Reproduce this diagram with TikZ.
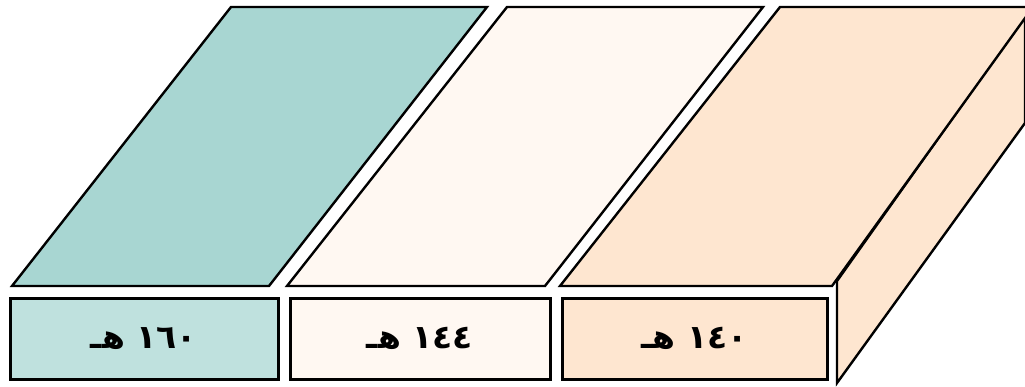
\documentclass[tikz,border=0pt]{standalone}
\usepackage{fontspec}
\newfontfamily\arabicfont[Script=Arabic]{DejaVu Sans}
\TeXXeTstate=1
\definecolor{tealtop}{HTML}{A8D6D2}
\definecolor{teallbl}{HTML}{BFE1DE}
\definecolor{creamfill}{HTML}{FFF8F2}
\definecolor{peachfill}{HTML}{FEE6D0}
\begin{document}
\begin{tikzpicture}[x=1pt,y=-1pt,
	face/.style={draw=black,line width=2.4pt,line join=miter},
	lbl/.style={draw=black,line width=3pt,minimum height=81pt,inner sep=0pt,
		font=\arabicfont\bfseries\fontsize{33}{38}\selectfont}]
	\useasboundingbox (0,0) rectangle (1025,386);
	\clip (0,0) rectangle (1025,386);
	% top faces
	\draw[face,fill=tealtop] (12,286) -- (231,7) -- (487,7) -- (269,286) -- cycle;
	\draw[face,fill=creamfill] (287,286) -- (507,7) -- (763,7) -- (545,286) -- cycle;
	\draw[face,fill=peachfill] (837,281) -- (837,383) -- (1025,123) -- (1025,16) -- cycle;
	\draw[face,fill=peachfill] (560,286) -- (780,7) -- (1033,7) -- (832,286) -- cycle;
	% labels
	\node[lbl,fill=teallbl,minimum width=268pt] (l1) at (144,338.5) {\beginR\beginL ١٦٠\endL{} هـ\endR};
	\node[lbl,fill=creamfill,minimum width=260pt] (l2) at (420,338.5) {\beginR\beginL ١٤٤\endL{} هـ\endR};
	\node[lbl,fill=peachfill,minimum width=265pt] (l3) at (694.5,338.5) {\beginR\beginL ١٤٠\endL{} هـ\endR};
\end{tikzpicture}
\end{document}
